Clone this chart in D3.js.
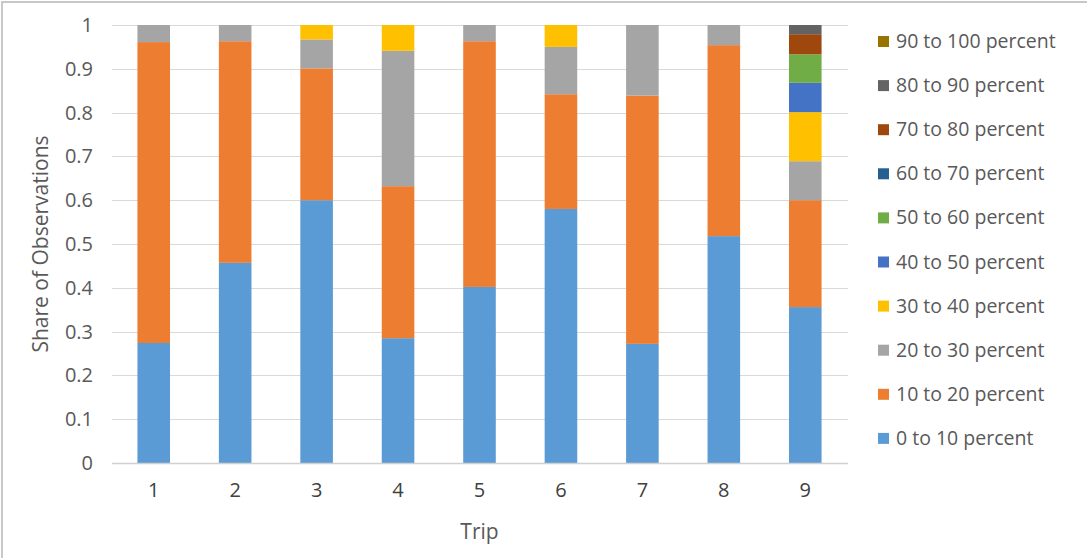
<!DOCTYPE html>
<html>
<head>
<meta charset="utf-8">
<script src="https://cdn.jsdelivr.net/npm/d3@7"></script>
<style>
  html, body { margin: 0; padding: 0; background: #fff; }
  svg { display: block; font-family: "Open Sans", "Liberation Sans", sans-serif; }
</style>
</head>
<body>
<svg id="chart" width="1087" height="558"></svg>
<script>
// Trips along the x axis
const trips = ["1", "2", "3", "4", "5", "6", "7", "8", "9"];

// Series (bottom to top in each stack)
const seriesNames = [
  "0 to 10 percent", "10 to 20 percent", "20 to 30 percent", "30 to 40 percent",
  "40 to 50 percent", "50 to 60 percent", "60 to 70 percent", "70 to 80 percent",
  "80 to 90 percent", "90 to 100 percent"
];
const seriesColors = [
  "#5B9BD5", "#ED7D31", "#A5A5A5", "#FFC000", "#4472C4",
  "#70AD47", "#255E91", "#9E480E", "#636363", "#997300"
];

// Share of observations per trip for each band
const share0to10   = [0.274, 0.457, 0.600, 0.285, 0.402, 0.580, 0.272, 0.518, 0.356];
const share10to20  = [0.687, 0.506, 0.301, 0.347, 0.561, 0.262, 0.567, 0.436, 0.244];
const share20to30  = [0.039, 0.037, 0.066, 0.309, 0.037, 0.108, 0.161, 0.046, 0.089];
const share30to40  = [0.000, 0.000, 0.033, 0.059, 0.000, 0.050, 0.000, 0.000, 0.112];
const share40to50  = [0.000, 0.000, 0.000, 0.000, 0.000, 0.000, 0.000, 0.000, 0.067];
const share50to60  = [0.000, 0.000, 0.000, 0.000, 0.000, 0.000, 0.000, 0.000, 0.065];
const share60to70  = [0.000, 0.000, 0.000, 0.000, 0.000, 0.000, 0.000, 0.000, 0.000];
const share70to80  = [0.000, 0.000, 0.000, 0.000, 0.000, 0.000, 0.000, 0.000, 0.046];
const share80to90  = [0.000, 0.000, 0.000, 0.000, 0.000, 0.000, 0.000, 0.000, 0.021];
const share90to100 = [0.000, 0.000, 0.000, 0.000, 0.000, 0.000, 0.000, 0.000, 0.000];

const seriesValues = [
  share0to10, share10to20, share20to30, share30to40, share40to50,
  share50to60, share60to70, share70to80, share80to90, share90to100
];

const yTicks = [0, 0.1, 0.2, 0.3, 0.4, 0.5, 0.6, 0.7, 0.8, 0.9, 1];

// Build rows for d3.stack
const rows = trips.map((t, i) => {
  const r = { trip: t };
  seriesNames.forEach((s, k) => { r[s] = seriesValues[k][i]; });
  return r;
});
const stacked = d3.stack().keys(seriesNames)(rows);

const svg = d3.select("#chart");

// Outer frame (left and top edges)
svg.append("line").attr("x1", 2).attr("x2", 2).attr("y1", 1).attr("y2", 558)
  .attr("stroke", "#c8c8c8").attr("stroke-width", 2);
svg.append("line").attr("x1", 1).attr("x2", 1087).attr("y1", 2).attr("y2", 2)
  .attr("stroke", "#c8c8c8").attr("stroke-width", 2);

const plot = { left: 113, right: 846, top: 25, bottom: 463 };

const x = d3.scaleBand().domain(trips).range([plot.left, plot.right]).paddingInner(0.6).paddingOuter(0.3);
const y = d3.scaleLinear().domain([0, 1]).range([plot.bottom, plot.top]);

// Gridlines
svg.append("g")
  .selectAll("line")
  .data(yTicks.filter(d => d > 0))
  .join("line")
  .attr("x1", plot.left - 1).attr("x2", plot.right + 2)
  .attr("y1", d => Math.round(y(d)) + 0.5).attr("y2", d => Math.round(y(d)) + 0.5)
  .attr("stroke", "#d9d9d9").attr("stroke-width", 1);

// Y axis labels
const yAxis = svg.append("g")
  .attr("transform", `translate(${plot.left - 20},0)`)
  .call(d3.axisLeft(y).tickValues(yTicks).tickFormat(d3.format("~g")).tickSize(0).tickPadding(0));
yAxis.select(".domain").remove();
yAxis.selectAll("text")
  .attr("fill", "#595959").style("font-size", "20px").style("font-family", "\"Open Sans\", sans-serif");

// Bars
svg.append("g")
  .selectAll("g")
  .data(stacked)
  .join("g")
  .attr("fill", (d, i) => seriesColors[i])
  .selectAll("rect")
  .data(d => d)
  .join("rect")
  .attr("x", d => x(d.data.trip))
  .attr("width", x.bandwidth())
  .attr("y", d => y(d[1]))
  .attr("height", d => Math.max(0, y(d[0]) - y(d[1])));

// Baseline
svg.append("line")
  .attr("x1", plot.left - 1).attr("x2", plot.right + 2)
  .attr("y1", plot.bottom + 0.5).attr("y2", plot.bottom + 0.5)
  .attr("stroke", "#d0d0d0").attr("stroke-width", 1.5);

// X axis labels
const xAxis = svg.append("g")
  .attr("transform", `translate(0,${plot.bottom})`)
  .call(d3.axisBottom(x).tickSize(0).tickPadding(20));
xAxis.select(".domain").remove();
xAxis.selectAll("text")
  .attr("fill", "#404040").style("font-size", "20px").style("font-family", "\"Open Sans\", sans-serif");

// Axis titles
svg.append("text")
  .attr("x", (plot.left + plot.right) / 2).attr("y", 539)
  .attr("text-anchor", "middle").attr("fill", "#595959")
  .style("font-size", "21px").text("Trip");

svg.append("text")
  .attr("transform", `translate(48,${(plot.top + plot.bottom) / 2}) rotate(-90)`)
  .attr("text-anchor", "middle").attr("fill", "#595959")
  .style("font-size", "21px").text("Share of Observations");

// Legend (top entry is the highest band)
const legendOrder = seriesNames.map((s, i) => i).reverse();
const legend = svg.append("g").selectAll("g")
  .data(legendOrder)
  .join("g")
  .attr("transform", (d, j) => `translate(878,${41 + j * 44.1})`);
legend.append("rect")
  .attr("x", 0).attr("y", -5).attr("width", 11).attr("height", 11)
  .attr("fill", d => seriesColors[d]);
legend.append("text")
  .attr("x", 18).attr("y", 7)
  .attr("fill", "#595959").style("font-size", "19.5px")
  .text(d => seriesNames[d]);
</script>
</body>
</html>
